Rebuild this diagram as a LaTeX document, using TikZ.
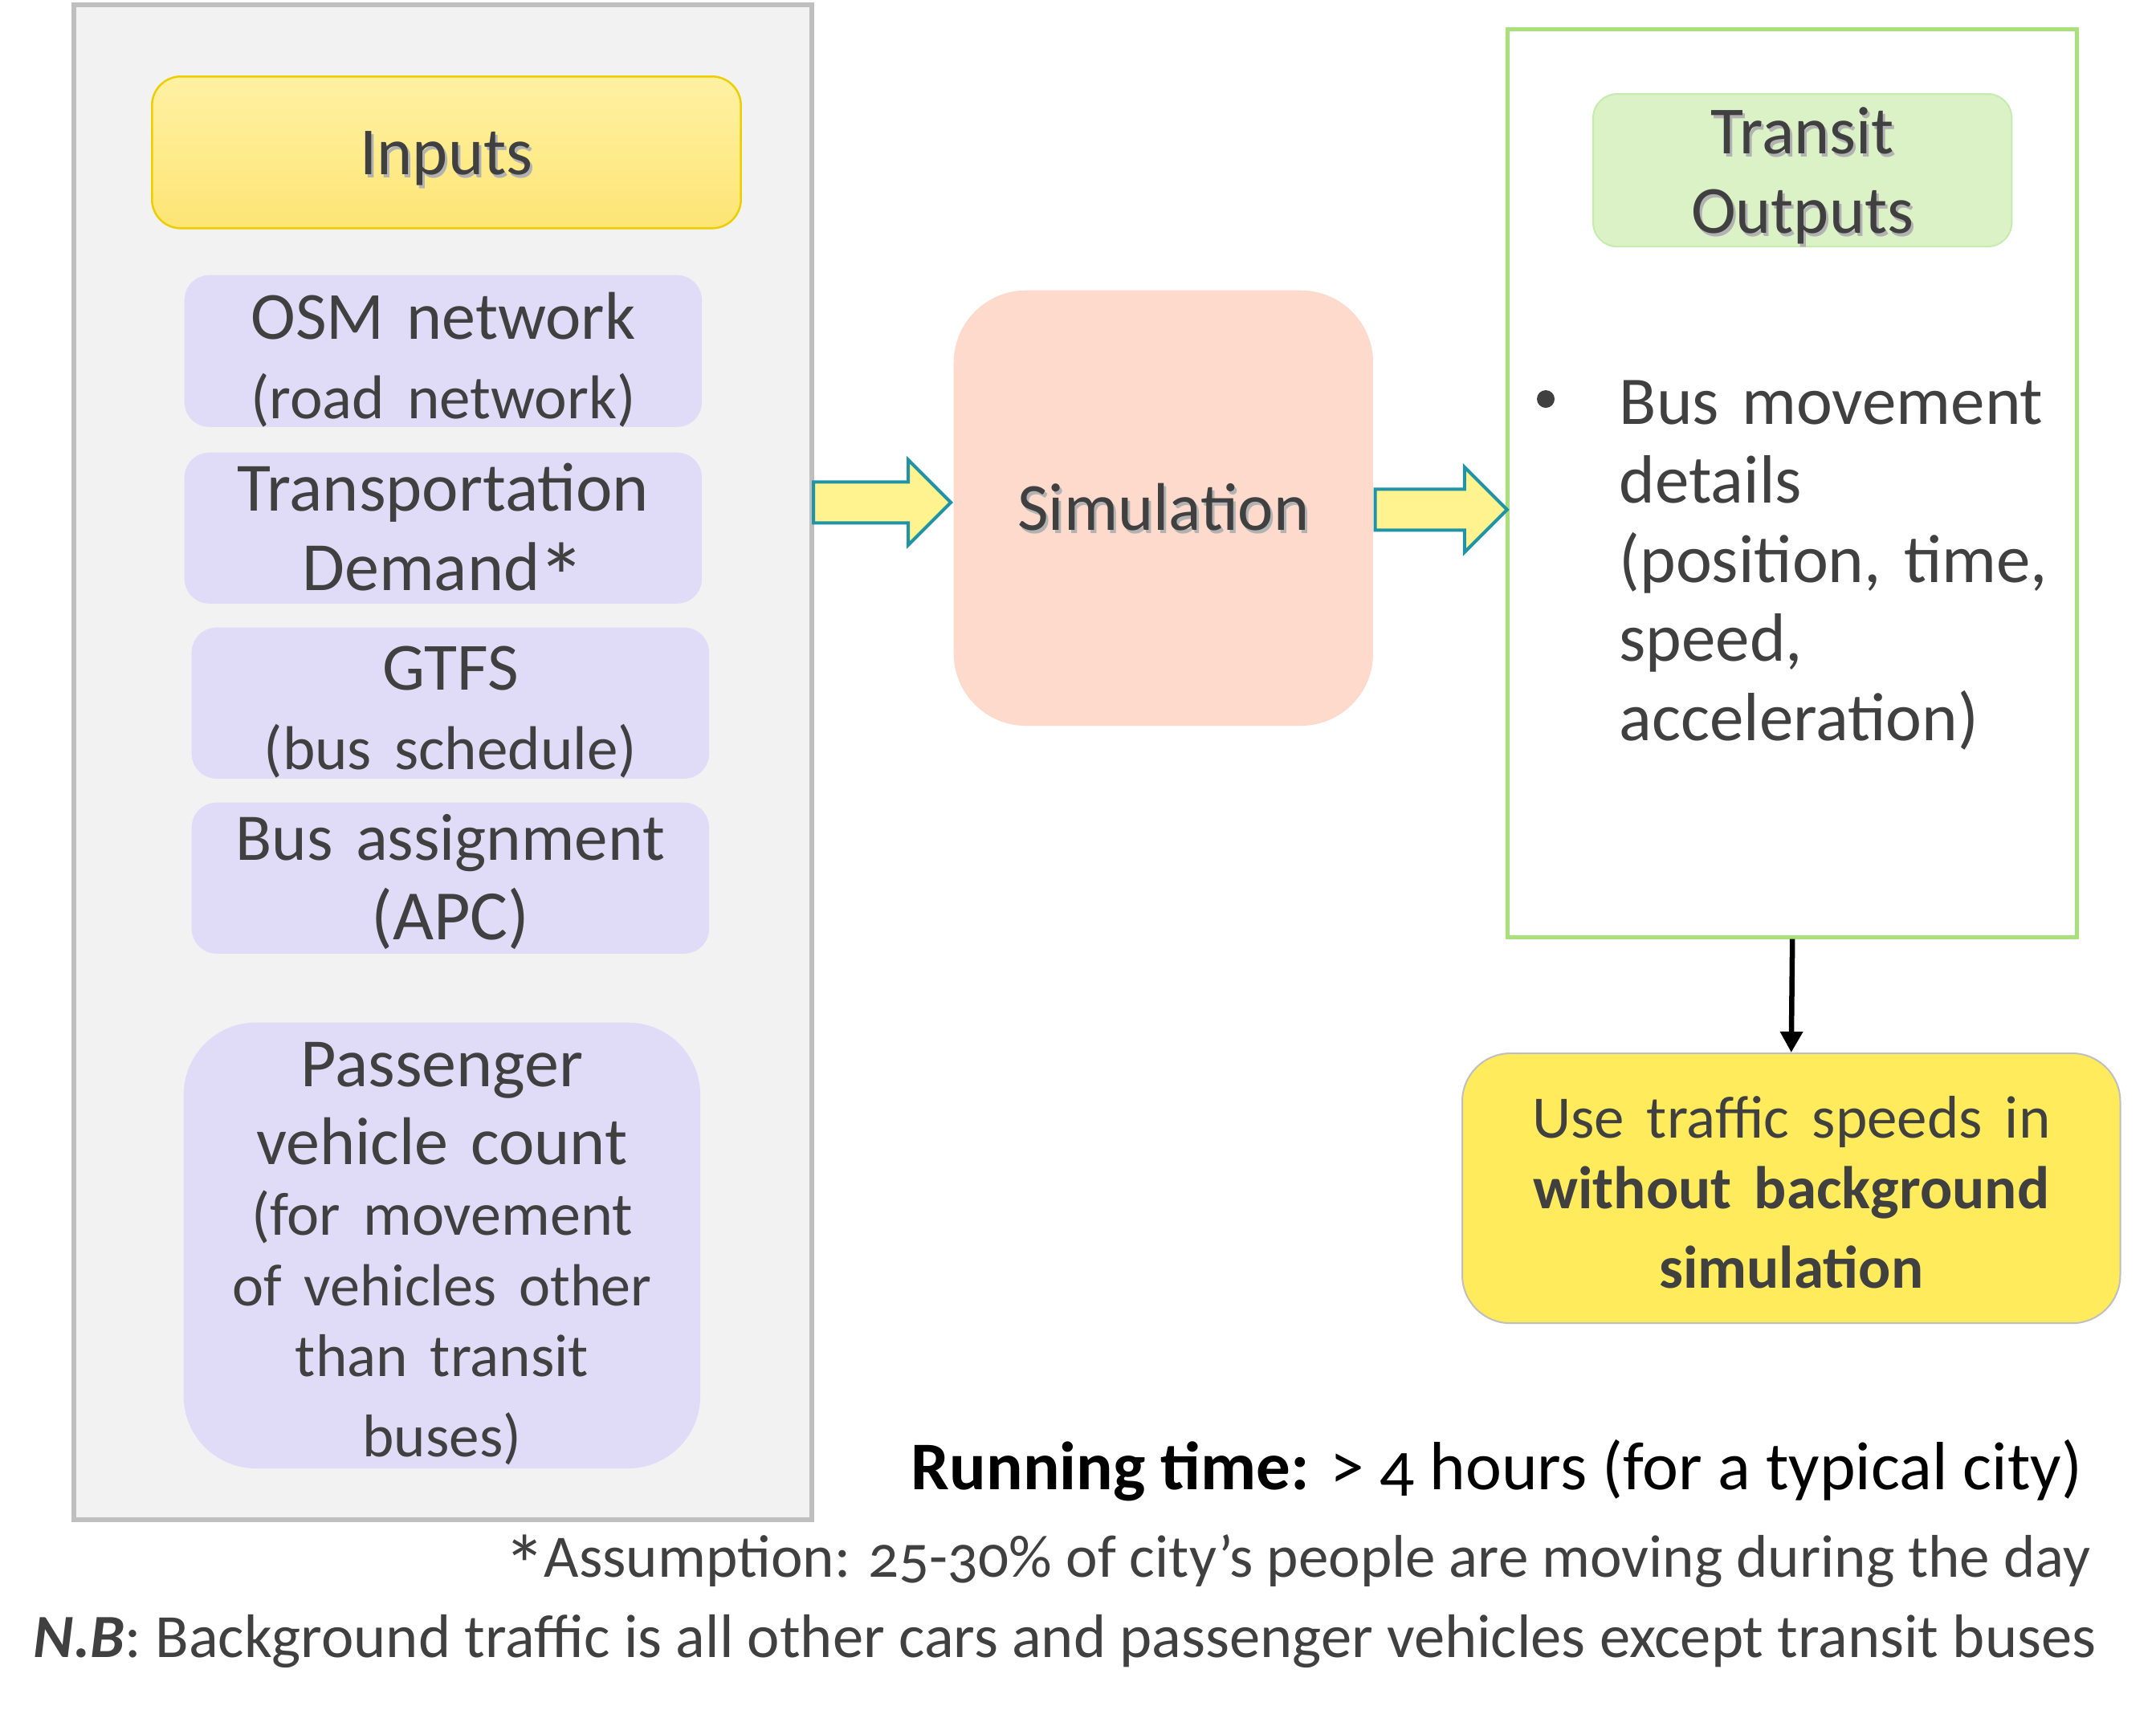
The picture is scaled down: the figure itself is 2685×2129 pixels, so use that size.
\documentclass[tikz,border=0pt]{standalone}
\usepackage{fontspec}
\usepackage{graphicx}
\setmainfont{Carlito}[Numbers=OldStyle]
\usetikzlibrary{shapes.arrows,arrows.meta,calc}
\definecolor{txt}{HTML}{404040}
\definecolor{panelfill}{HTML}{F2F2F2}
\definecolor{panelline}{HTML}{BFBFBF}
\definecolor{lav}{HTML}{E0DCF7}
\definecolor{peach}{HTML}{FDDACB}
\definecolor{arrfill}{HTML}{FFF38F}
\definecolor{arrline}{HTML}{2193A7}
\definecolor{grnline}{HTML}{A9E07A}
\definecolor{grnfill}{HTML}{DBF2C7}
\definecolor{grnedge}{HTML}{C6EAB0}
\definecolor{ylw}{HTML}{FFEB5B}
\definecolor{inptop}{HTML}{FFF1A3}
\definecolor{inpbot}{HTML}{FDE574}
\definecolor{inpline}{HTML}{EDCF00}
\newcommand\fsz[2]{\fontsize{#1cm}{#2cm}\selectfont}
\newcommand\shd[1]{\leavevmode\rlap{\kern0.03cm\raisebox{-0.04cm}{\color{black!30}#1}}#1}
\newcommand\bigast{\kern-0.03em\raisebox{-0.3em}{\scalebox{1.4}{*}}\kern-0.03em}
\tikzset{
  tbox/.style n args={3}{text width=#1cm, minimum width=#1cm, text height=#2cm, text depth=#3cm, inner sep=0pt, align=center, anchor=north west},
  lavbox/.style={fill=lav, rounded corners=0.31cm},
  blockarrow/.style={single arrow, draw=arrline, fill=arrfill, line width=0.04cm, text height=0.235cm, text depth=0.235cm, text width=0pt, minimum width=1.02cm, single arrow head extend=0.275cm, single arrow head indent=0pt, inner sep=0pt},
  foot/.style={anchor=base east, inner sep=0pt, font=\fsz{0.75}{0.9}}
}
\begin{document}
\begin{tikzpicture}[x=0.01cm, y=-0.01cm, text=txt, font=\fsz{0.84}{0.99}]
\useasboundingbox (0,0) rectangle (2685,2129);
\fill[white] (0,0) rectangle (2685,2129);

% left panel
\node[fill=panelfill, draw=panelline, line width=0.06cm, minimum width=9.18cm, minimum height=18.86cm, anchor=north west, inner sep=0pt] (panel) at (89,3) {};

\node[top color=inptop, bottom color=inpbot, draw=inpline, line width=0.025cm, rounded corners=0.36cm, tbox={7.33}{1.22}{0.67}] (inputs) at (188,94) {\shd{Inputs}};

\node[lavbox, tbox={6.44}{0.80}{1.09}] (osm) at (229,342) {\fsz{0.84}{0.90}OSM network\\\fsz{0.77}{0.90}(road network)};
\node[lavbox, tbox={6.44}{0.73}{1.15}] (demand) at (229,563) {\fsz{0.86}{0.99}Transportation\\Demand\bigast};
\node[lavbox, tbox={6.44}{0.78}{1.10}] (gtfs) at (238,781) {\fsz{0.84}{0.89}GTFS\\\fsz{0.77}{0.89}(bus schedule)};
\node[lavbox, tbox={6.44}{0.72}{1.16}] (apc) at (238,999) {\fsz{0.83}{0.99}Bus assignment\\\fsz{0.88}{0.99}(APC)};
\node[fill=lav, rounded corners=0.9cm, tbox={6.43}{0.80}{4.75}] (pvc) at (228,1273) {\fsz{0.86}{0.88}Passenger\\[0.09cm]\fsz{0.84}{0.88}vehicle count\\\fsz{0.76}{0.88}(for movement\\\fsz{0.74}{0.88}of vehicles other\\\fsz{0.75}{0.88}than transit\\buses)};

% simulation
\node[fill=peach, rounded corners=0.9cm, tbox={5.22}{2.99}{2.43}] (sim) at (1187,361) {\shd{Simulation}};

% outputs
\node[draw=grnline, fill=white, line width=0.05cm, minimum width=7.09cm, minimum height=11.30cm, anchor=north west, inner sep=0pt] (outbox) at (1875,34) {};
\node[fill=grnfill, draw=grnedge, line width=0.02cm, rounded corners=0.3cm, tbox={5.21}{0.74}{1.16}] (transit) at (1983,116) {\shd{Transit}\\\shd{Outputs}};
\node[circle, fill=txt, minimum size=0.22cm, inner sep=0pt] (bullet) at (1925,497) {};
\node[anchor=base west, text width=5.7cm, align=left, inner sep=0pt, font=\fsz{0.85}{0.985}] (busdet) at (2016,528) {Bus movement\\details\\(position, time,\\speed,\\acceleration)};

% block arrows
\node[blockarrow, minimum height=1.71cm, anchor=tip] (arrin) at ([yshift=0.07cm]sim.west) {};
\node[blockarrow, minimum height=1.64cm, anchor=tail] (arrout) at ([yshift=-0.02cm]sim.east) {};

% use box
\node[fill=ylw, draw=panelline, line width=0.02cm, rounded corners=0.6cm, tbox={8.19}{1.05}{2.31}] (usebox) at (1820,1311) {\fsz{0.75}{0.88}Use traffic speeds in\\\textbf{without background}\\\textbf{simulation}};
\draw[line width=0.065cm, -{Triangle[length=0.26cm, width=0.27cm]}] (outbox.south) -- (usebox.north);

% footer texts
\node[anchor=base east, inner sep=0pt, text=black, font=\fsz{0.85}{1}] (runtime) at (2594,1855) {\textbf{Running time:} > 4 hours (for a typical city)};
\node[foot] (assume) at (2604,1964) {\bigast Assumption: 25-30\% of city’s people are moving during the day};
\node[foot, font=\fsz{0.765}{0.9}] (nb) at (2611,2064) {\textbf{\textit{N.B}}: Background traffic is all other cars and passenger vehicles except transit buses};
\end{tikzpicture}
\end{document}
